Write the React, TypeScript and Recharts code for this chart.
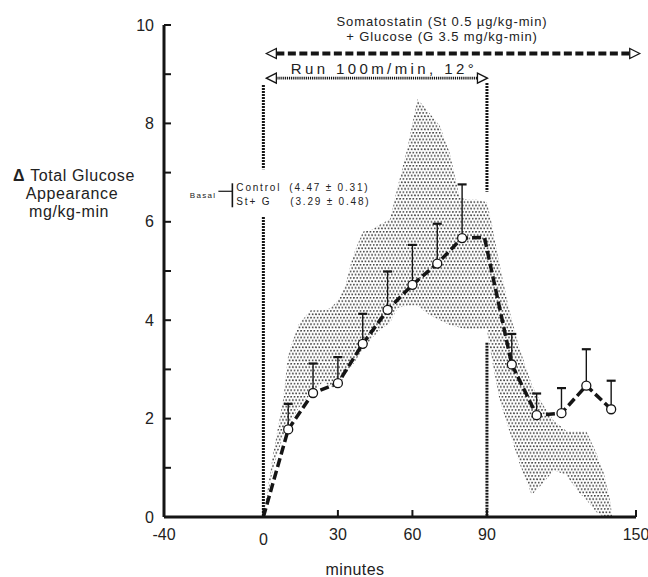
import React from "react";
import {
  ComposedChart,
  Area,
  Line,
  XAxis,
  YAxis,
  ReferenceLine,
  ReferenceDot,
} from "recharts";

const FONT = "'Liberation Sans', Arial, Helvetica, sans-serif";
const INK = "#151515";

// ---- axis ticks ----
const xTickValues = [-40, 0, 30, 60, 90, 150];
const yTickValues = [0, 1, 2, 3, 4, 5, 6, 7, 8, 9, 10];
const yLabelValues = [0, 2, 4, 6, 8, 10];

// ---- control band (stippled, mean ± SE) ----
const bandMinutes = [0, 4, 8, 10, 14, 19, 24, 27, 30, 33, 36, 40, 44, 47, 51, 54, 58, 62, 67, 71, 75, 79, 82, 86, 90, 92, 95, 99, 103, 108, 111, 117, 122, 127, 130, 134, 137, 139.5, 140.5];
const bandLow = [0, 1.0, 1.65, 1.85, 2.2, 2.5, 2.75, 2.65, 2.6, 2.9, 3.1, 3.4, 3.65, 3.8, 3.95, 4.25, 4.3, 4.3, 4.1, 4.0, 3.9, 3.85, 3.8, 3.8, 3.8, 3.2, 2.4, 1.75, 1.1, 0.45, 0.6, 0.95, 0.85, 0.5, 0.35, 0.1, 0, 0, 0];
const bandHigh = [0, 1.3, 2.4, 3.3, 3.9, 4.2, 4.2, 4.25, 4.4, 4.7, 5.3, 5.8, 5.85, 5.95, 6.05, 6.7, 7.5, 8.5, 8.2, 7.95, 7.4, 6.5, 6.45, 6.45, 6.4, 5.95, 5.15, 4.2, 3.45, 2.7, 2.4, 1.95, 1.75, 1.75, 1.75, 1.3, 0.9, 0.35, 0];

// ---- St + G series (mean, upper SE) ----
const meanMinutes = [0, 10, 20, 30, 40, 50, 60, 70, 80, 89, 100, 110, 120, 130, 140];
const meanValues = [0, 1.78, 2.52, 2.72, 3.52, 4.21, 4.72, 5.15, 5.67, 5.68, 3.1, 2.07, 2.11, 2.67, 2.19];
const meanSem: (number | null)[] = [null, 0.52, 0.6, 0.53, 0.61, 0.78, 0.81, 0.81, 1.09, null, 0.62, 0.44, 0.51, 0.74, 0.58];

const bandData = bandMinutes.map((m, i) => ({ m, range: [bandLow[i], bandHigh[i]] }));
const meanData = meanMinutes.map((m, i) => ({
  m,
  v: meanValues[i],
  marked: meanSem[i] != null,
}));
const errData = meanMinutes
  .map((m, i) => ({ m, v: meanValues[i], sem: meanSem[i] }))
  .filter((d) => d.sem != null) as { m: number; v: number; sem: number }[];

const DOT_R = 4.5;

const XTick = (props: any) => {
  const { x, y, payload } = props;
  const v = payload.value;
  return (
    <g>
      {v !== -40 && (
        <line x1={x} x2={x} y1={y} y2={y - 7} stroke={INK} strokeWidth={2} />
      )}
      <text
        x={x}
        y={y + (v === 0 ? 28 : 23)}
        textAnchor="middle"
        fontSize={16}
        fontFamily={FONT}
        fill="#222"
      >
        {String(v)}
      </text>
    </g>
  );
};

const YTick = (props: any) => {
  const { x, y, payload } = props;
  const v = payload.value;
  return (
    <g>
      <line x1={x} x2={x + 7} y1={y} y2={y} stroke={INK} strokeWidth={2} />
      {yLabelValues.includes(v) && (
        <text
          x={x - 10}
          y={y + 5.5}
          textAnchor="end"
          fontSize={16}
          fontFamily={FONT}
          fill="#222"
        >
          {String(v)}
        </text>
      )}
    </g>
  );
};

const YTitle = () => (
  <text fontFamily={FONT} fontSize={16} letterSpacing={0.6} fill="#222" textAnchor="middle">
    <tspan x={74} y={181}>
      <tspan fontWeight="bold">Δ</tspan> Total Glucose
    </tspan>
    <tspan x={72} y={199}>Appearance</tspan>
    <tspan x={69} y={217}>mg/kg-min</tspan>
  </text>
);

const XTitle = () => (
  <text x={355} y={575} fontFamily={FONT} fontSize={16} letterSpacing={0.4} fill="#222" textAnchor="middle">
    minutes
  </text>
);

const OpenHead = ({ x, y, dir }: { x: number; y: number; dir: number }) => (
  <polygon
    points={`${x},${y} ${x + dir * 10},${y - 5} ${x + dir * 10},${y + 5}`}
    fill="#fff"
    stroke={INK}
    strokeWidth={1.3}
  />
);

const SomArrow = (p: any) => {
  const { x1, y1, x2 } = p;
  const cx = (x1 + x2) / 2 - 11;
  return (
    <g>
      <line x1={x1 + 10} x2={x2 - 10} y1={y1} y2={y1} stroke={INK} strokeWidth={4} strokeDasharray="8 3.5" />
      <OpenHead x={x1} y={y1} dir={1} />
      <OpenHead x={x2} y={y1} dir={-1} />
      <text x={cx} y={y1 - 27.5} textAnchor="middle" fontFamily={FONT} fontSize={13} letterSpacing={0.9} fill="#222">
        Somatostatin (St 0.5 µg/kg-min)
      </text>
      <text x={cx} y={y1 - 13} textAnchor="middle" fontFamily={FONT} fontSize={13} letterSpacing={0.9} fill="#222">
        + Glucose (G 3.5 mg/kg-min)
      </text>
    </g>
  );
};

const RunArrow = (p: any) => {
  const { x1, y1, x2 } = p;
  const cx = (x1 + x2) / 2 + 7;
  return (
    <g>
      <line x1={x1 + 10} x2={x2 - 10} y1={y1} y2={y1} stroke={INK} strokeWidth={2.6} strokeDasharray="1.2 0.9" />
      <OpenHead x={x1} y={y1} dir={1} />
      <OpenHead x={x2} y={y1} dir={-1} />
      <text x={cx} y={y1 - 4.5} textAnchor="middle" fontFamily={FONT} fontSize={15} letterSpacing={3.4} fill="#222">
        Run 100m/min, 12°
      </text>
    </g>
  );
};

const ErrShape = (p: any) => {
  const { x1, y1, y2 } = p;
  return (
    <g>
      <line x1={x1} x2={x1} y1={y1 - DOT_R} y2={y2} stroke={INK} strokeWidth={1.4} />
      <line x1={x1 - 4.5} x2={x1 + 4.5} y1={y2} y2={y2} stroke={INK} strokeWidth={2.2} />
    </g>
  );
};

const BasalNote = (p: any) => {
  const { cx, cy } = p;
  return (
    <g fontFamily={FONT} fill="#222">
      <text x={cx - 47} y={cy + 5.7} textAnchor="end" fontSize={8} letterSpacing={1.3}>
        Basal
      </text>
      <line x1={cx - 45} x2={cx - 31} y1={cy - 1} y2={cy - 1} stroke={INK} strokeWidth={1.2} />
      <line x1={cx - 31} x2={cx - 31} y1={cy - 9} y2={cy + 15} stroke={INK} strokeWidth={1.6} />
      <text y={cy - 1.6} fontSize={10} letterSpacing={1.8}>
        <tspan x={cx - 27}>Control</tspan>
        <tspan x={cx + 26}>(4.47 ± 0.31)</tspan>
      </text>
      <text y={cy + 12.7} fontSize={10} letterSpacing={1.8}>
        <tspan x={cx - 27}>St+ G</tspan>
        <tspan x={cx + 27}>(3.29 ± 0.48)</tspan>
      </text>
    </g>
  );
};

const renderDot = (props: any) => {
  const { cx, cy, payload, index } = props;
  if (!payload.marked) return <g key={`d-${index}`} />;
  return (
    <circle key={`d-${index}`} cx={cx} cy={cy} r={DOT_R} fill="#fff" stroke={INK} strokeWidth={1.3} />
  );
};

const dotted = { stroke: INK, strokeWidth: 3, strokeDasharray: "2 1" };

export default function App() {
  return (
    <div style={{ position: "absolute", left: 0, top: 0, background: "#fff" }}>
      <ComposedChart
        width={648}
        height={577}
        margin={{ top: 25, right: 12, bottom: 30, left: 120 }}
      >
        <defs>
          <pattern id="stipple" patternUnits="userSpaceOnUse" width="3.3" height="6.6">
            <circle cx="0.8" cy="0.8" r="0.95" fill="#444" />
            <circle cx="2.45" cy="4.1" r="0.95" fill="#444" />
          </pattern>
        </defs>
        <XAxis
          type="number"
          dataKey="m"
          domain={[-40, 150]}
          ticks={xTickValues}
          interval={0}
          allowDataOverflow
          tickLine={false}
          tickSize={0}
          tickMargin={0}
          tick={<XTick />}
          axisLine={{ stroke: INK, strokeWidth: 3 }}
          height={30}
          label={<XTitle />}
        />
        <YAxis
          type="number"
          domain={[0, 10]}
          ticks={yTickValues}
          interval={0}
          allowDataOverflow
          tickLine={false}
          tickSize={0}
          tickMargin={0}
          tick={<YTick />}
          axisLine={{ stroke: INK, strokeWidth: 3 }}
          width={44}
          label={<YTitle />}
        />
        <Area
          data={bandData}
          dataKey="range"
          type="linear"
          fill="url(#stipple)"
          fillOpacity={1}
          stroke="none"
          isAnimationActive={false}
          activeDot={false}
        />
        <ReferenceLine segment={[{ x: 0, y: 8.78 }, { x: 0, y: 7.07 }]} {...dotted} ifOverflow="visible" />
        <ReferenceLine segment={[{ x: 0, y: 6.1 }, { x: 0, y: 0 }]} {...dotted} ifOverflow="visible" />
        <ReferenceLine segment={[{ x: 90, y: 8.82 }, { x: 90, y: 6.61 }]} {...dotted} ifOverflow="visible" />
        <ReferenceLine segment={[{ x: 90, y: 3.54 }, { x: 90, y: 0 }]} {...dotted} ifOverflow="visible" />
        <ReferenceLine
          segment={[{ x: 1.2, y: 9.42 }, { x: 151.5, y: 9.42 }]}
          ifOverflow="visible"
          shape={SomArrow}
        />
        <ReferenceLine
          segment={[{ x: 1.2, y: 8.92 }, { x: 90.2, y: 8.92 }]}
          ifOverflow="visible"
          shape={RunArrow}
        />
        <ReferenceDot x={0} y={6.6} r={0} ifOverflow="visible" shape={BasalNote} />
        {errData.map((d) => (
          <ReferenceLine
            key={`err-${d.m}`}
            segment={[{ x: d.m, y: d.v }, { x: d.m, y: d.v + d.sem }]}
            ifOverflow="visible"
            shape={ErrShape}
          />
        ))}
        <Line
          data={meanData}
          dataKey="v"
          type="linear"
          stroke={INK}
          strokeWidth={3.5}
          strokeDasharray="9 4"
          dot={renderDot}
          activeDot={false}
          isAnimationActive={false}
        />
      </ComposedChart>
    </div>
  );
}
